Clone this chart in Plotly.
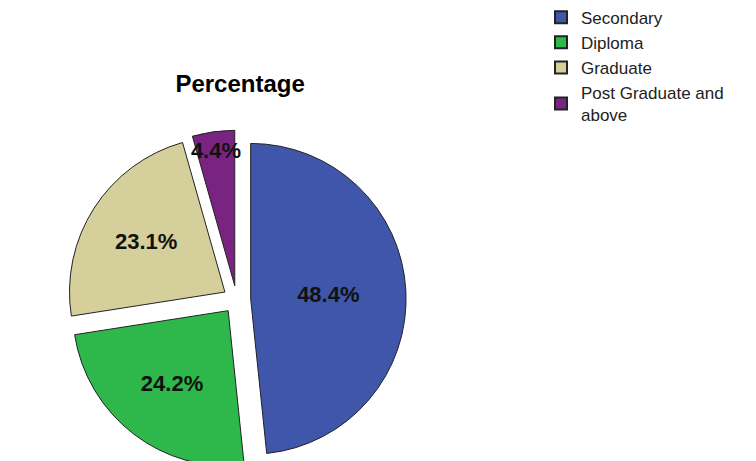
import plotly.graph_objects as go

categories = ["Secondary", "Diploma", "Graduate", "Post Graduate and<br>above"]
values = [48.4, 24.2, 23.1, 4.4]
labels_text = ["48.4%", "24.2%", "23.1%", "4.4%"]
colors = ["#3F56AA", "#2EB84B", "#D4CF9B", "#7A2481"]

fig = go.Figure(go.Pie(
    labels=categories,
    values=values,
    text=labels_text,
    textinfo="text",
    textposition="inside",
    insidetextorientation="horizontal",
    sort=False,
    direction="clockwise",
    rotation=0,
    pull=[0.09, 0.09, 0.09, 0.09],
    marker=dict(colors=colors, line=dict(color="#222222", width=1)),
    textfont=dict(family="Arial, Liberation Sans", size=22, color="#111111", weight="bold"),
    domain=dict(x=[0, 0.605], y=[0, 0.735]),
    hoverinfo="label+percent",
))

fig.update_layout(
    width=756, height=461,
    margin=dict(l=0, r=0, t=0, b=0, autoexpand=False),
    paper_bgcolor="white",
    plot_bgcolor="white",
    uniformtext=dict(minsize=22, mode="show"),
    title=dict(text="<b>Percentage</b>", x=0.307, xanchor="center", y=0.835, yanchor="middle",
               font=dict(family="Arial, Liberation Sans", size=24, color="black")),
    legend=dict(x=0.705, y=1.018, xanchor="left", yanchor="top",
                font=dict(family="Arial, Liberation Sans", size=17, color="#222222"),
                tracegroupgap=0, itemsizing="constant"),
)

fig.write_html("out.html")
